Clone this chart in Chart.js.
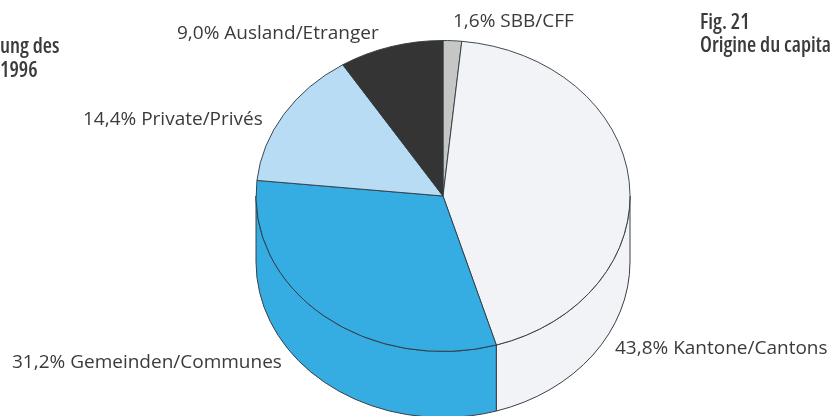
<!DOCTYPE html>
<html>
<head>
<meta charset="utf-8">
<style>
  html, body { margin: 0; padding: 0; background: #fff; overflow: hidden; }
  canvas { display: block; }
</style>
<script src="https://cdn.jsdelivr.net/npm/chart.js@4"></script>
</head>
<body>
<canvas id="grafica" width="831" height="416"></canvas>
<script>
// Datos del gráfico
const categorias = ['SBB/CFF', 'Kantone/Cantons', 'Gemeinden/Communes', 'Private/Privés', 'Ausland/Etranger'];
const valores = [1.6, 43.8, 31.2, 14.4, 9.0];
const colores = ['#c6c7c4', '#f1f3f6', '#35ace2', '#b8dcf3', '#343434'];
const textosLaterales = [
  ['ung des', 0, 53],
  ['1996', 0, 77],
  ['Fig. 21', 700, 29],
  ['Origine du capital', 700, 52]
];

// Posición de las etiquetas (x, y de la línea base), mismo orden que categorias
const posEtiquetas = [[453, 27], [615, 354], [12, 368], [83, 125], [177, 39]];

const aplastado = 155.5 / 187; // la tarta es una elipse
const profundidad = 66;

function etiqueta(i) {
  return valores[i].toFixed(1).replace('.', ',') + '% ' + categorias[i];
}

function aplicarElipse(ctx, cy) {
  ctx.translate(0, cy);
  ctx.scale(1, aplastado);
  ctx.translate(0, -cy);
}

const tarta3d = {
  id: 'tarta3d',
  beforeDatasetsDraw(chart) {
    const ctx = chart.ctx;
    const arcos = chart.getDatasetMeta(0).data;

    // Cara lateral del cilindro
    arcos.forEach((arco, i) => {
      const ini = Math.max(arco.startAngle, 0);
      const fin = Math.min(arco.endAngle, Math.PI);
      if (ini >= fin) return;
      ctx.save();
      aplicarElipse(ctx, arco.y);
      ctx.beginPath();
      ctx.arc(arco.x, arco.y, arco.outerRadius, ini, fin);
      ctx.arc(arco.x, arco.y + profundidad / aplastado, arco.outerRadius, fin, ini, true);
      ctx.closePath();
      ctx.restore();
      ctx.fillStyle = colores[i];
      ctx.fill();
      ctx.strokeStyle = '#3a3f45';
      ctx.lineWidth = 1;
      ctx.stroke();
    });

    // La cara superior se dibuja aplastada
    ctx.save();
    aplicarElipse(ctx, arcos[0].y);
  },
  afterDatasetsDraw(chart) {
    const ctx = chart.ctx;
    ctx.restore();

    ctx.fillStyle = '#3b3b3b';
    ctx.textBaseline = 'alphabetic';
    ctx.font = '19px "Open Sans"';
    categorias.forEach((c, i) => {
      ctx.fillText(etiqueta(i), posEtiquetas[i][0], posEtiquetas[i][1]);
    });

    ctx.font = '600 21px "Open Sans"';
    ctx.fontStretch = 'condensed';
    textosLaterales.forEach(t => ctx.fillText(t[0], t[1], t[2]));
  }
};

const ctxTarta = document.getElementById('grafica').getContext('2d');
new Chart(ctxTarta, {
  type: 'pie',
  data: {
    labels: categorias,
    datasets: [{
      data: valores,
      backgroundColor: colores,
      borderColor: '#2f3a44',
      borderWidth: 1
    }]
  },
  options: {
    responsive: false,
    animation: false,
    radius: 187,
    layout: { padding: { left: 55, bottom: 24 } },
    plugins: {
      legend: { display: false },
      tooltip: { enabled: false }
    }
  },
  plugins: [tarta3d]
});
</script>
</body>
</html>
